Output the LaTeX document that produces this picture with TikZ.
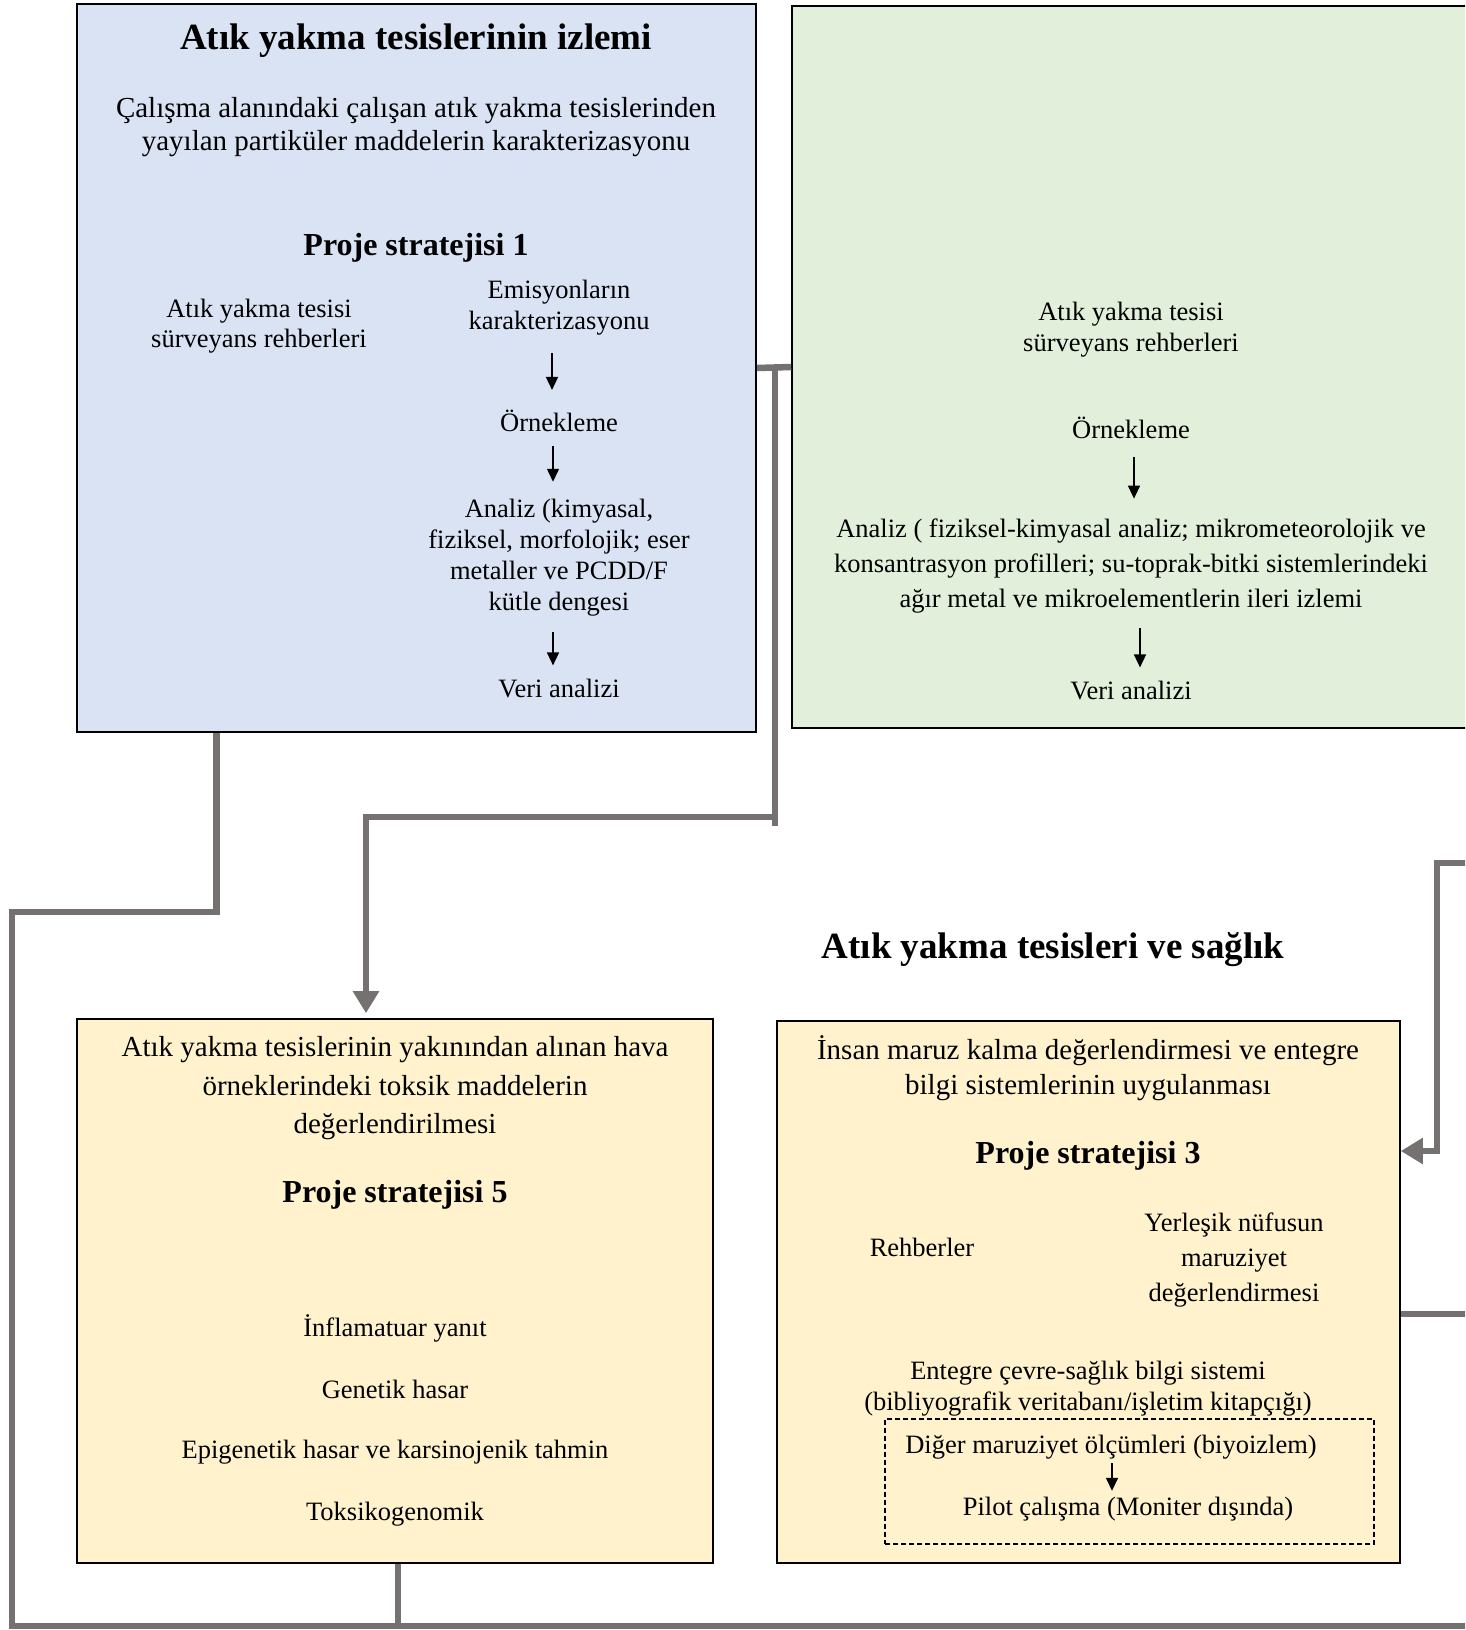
\documentclass[tikz,border=0pt]{standalone}
\usepackage{fontspec}
\setmainfont{Liberation Serif}
\usetikzlibrary{arrows.meta}
\definecolor{monblue}{HTML}{DAE3F3}
\definecolor{mongreen}{HTML}{E2EFDA}
\definecolor{monyellow}{HTML}{FFF2CC}
\definecolor{linegray}{HTML}{767171}
\tikzset{
  panel/.style={draw=black, line width=1.6pt, inner sep=0pt},
  conn/.style={draw=linegray, line width=6.5pt},
  connhead/.style={-{Triangle[length=22pt,width=25pt]}},
  flow/.style={draw=black, line width=1.5pt, -{Triangle[length=13pt,width=12pt]}},
  txt/.style={inner sep=0pt, align=center},
  bigtitle/.style={txt, font=\fontsize{37}{42}\selectfont\bfseries},
  strat/.style={txt, font=\fontsize{32}{36}\selectfont\bfseries},
}
\begin{document}
\begin{tikzpicture}[x=1pt,y=-1pt]
  \clip (0,0) rectangle (1465,1630);
  \fill[white] (0,0) rectangle (1465,1630);

  \node[panel, fill=monblue, minimum width=679, minimum height=728] (mon) at (416.5,368) {};
  \node[panel, fill=mongreen, minimum width=700, minimum height=722] (fld) at (1142,367) {};
  \node[panel, fill=monyellow, minimum width=636, minimum height=544] (tox) at (395,1291) {};
  \node[panel, fill=monyellow, minimum width=623, minimum height=542] (hum) at (1088.5,1292) {};
  \node[draw=black, line width=1.2pt, dash pattern=on 5pt off 3pt, minimum width=489, minimum height=125] (pil) at (1129.5,1481.5) {};

  \node[bigtitle] (t1) at (416,41) {Atık yakma tesislerinin izlemi};
  \node[txt, font=\fontsize{29}{33}\selectfont] (d1) at (416,127.5) {Çalışma alanındaki çalışan atık yakma tesislerinden\\yayılan partiküler maddelerin karakterizasyonu};
  \node[strat] (s1) at (416,248) {Proje stratejisi 1};
  \node[txt, font=\fontsize{26.5}{30.5}\selectfont] (g1) at (259,326) {Atık yakma tesisi\\sürveyans rehberleri};
  \node[txt, font=\fontsize{26.5}{30.5}\selectfont] (e1) at (559,307.5) {Emisyonların\\karakterizasyonu};
  \node[txt, font=\fontsize{26.5}{30.5}\selectfont] (o1) at (559,421) {Örnekleme};
  \node[txt, font=\fontsize{26.5}{31}\selectfont] (a1) at (559,557.5) {Analiz (kimyasal,\\fiziksel, morfolojik; eser\\metaller ve PCDD/F\\kütle dengesi};
  \node[txt, font=\fontsize{26.5}{30.5}\selectfont] (v1) at (559,688) {Veri analizi};
  \draw[flow, shorten <=18pt, shorten >=20pt] ([xshift=-7]e1.south) -- ([xshift=-7]o1.north);
  \draw[flow, shorten <=14pt, shorten >=17pt] ([xshift=-6]o1.south) -- ([xshift=-6]a1.north);
  \draw[flow, shorten <=16pt, shorten >=13pt] ([xshift=-6]a1.south) -- ([xshift=-6]v1.north);

  \node[txt, font=\fontsize{26.5}{31}\selectfont] (g2) at (1131,329.5) {Atık yakma tesisi\\sürveyans rehberleri};
  \node[txt, font=\fontsize{26.5}{30.5}\selectfont] (o2) at (1131,428) {Örnekleme};
  \node[txt, font=\fontsize{26.5}{35}\selectfont] (a2) at (1131,566) {Analiz ( fiziksel-kimyasal analiz; mikrometeorolojik ve\\konsantrasyon profilleri; su-toprak-bitki sistemlerindeki\\ağır metal ve mikroelementlerin ileri izlemi};
  \node[txt, font=\fontsize{26.5}{30.5}\selectfont] (v2) at (1131,690) {Veri analizi};
  \draw[flow, shorten <=18pt, shorten >=20pt] ([xshift=3]o2.south) -- ([xshift=3]a2.north);
  \draw[flow, shorten <=15pt, shorten >=13pt] ([xshift=9]a2.south) -- ([xshift=9]v2.north);

  \node[bigtitle] (t2) at (1053,950) {Atık yakma tesisleri ve sağlık};

  \node[txt, font=\fontsize{29}{38.5}\selectfont] (d5) at (395,1088.5) {Atık yakma tesislerinin yakınından alınan hava\\örneklerindeki toksik maddelerin\\değerlendirilmesi};
  \node[strat] (s5) at (395,1195) {Proje stratejisi 5};
  \foreach \y/\t/\n in {1328/İnflamatuar yanıt/inf, 1389/Genetik hasar/gen,
    1452/Epigenetik hasar ve karsinojenik tahmin/epi, 1514/Toksikogenomik/tgx} {
    \node[txt, font=\fontsize{26.5}{30.5}\selectfont] (\n) at (395,\y) {\t};
  }

  \node[txt, font=\fontsize{29}{35}\selectfont] (d3) at (1088,1068.5) {İnsan maruz kalma değerlendirmesi ve entegre\\bilgi sistemlerinin uygulanması};
  \node[strat] (s3) at (1088,1156) {Proje stratejisi 3};
  \node[txt, font=\fontsize{26.5}{30.5}\selectfont] (r3) at (922,1247) {Rehberler};
  \node[txt, font=\fontsize{26.5}{35}\selectfont] (y3) at (1234,1260.5) {Yerleşik nüfusun\\maruziyet\\değerlendirmesi};
  \node[txt, font=\fontsize{26.5}{31}\selectfont] (en3) at (1088,1388.5) {Entegre çevre-sağlık bilgi sistemi\\(bibliyografik veritabanı/işletim kitapçığı)};
  \node[txt, font=\fontsize{26.5}{30.5}\selectfont] (bi3) at (1111,1447) {Diğer maruziyet ölçümleri (biyoizlem)};
  \node[txt, font=\fontsize{26.5}{30.5}\selectfont] (pi3) at (1128,1509) {Pilot çalışma (Moniter dışında)};
  \draw[flow, shorten <=4pt, shorten >=6pt] ([xshift=1]bi3.south) -- ([xshift=-16]pi3.north);

  \coordinate (j1) at (775,366);
  \coordinate (j2) at (775,826);
  \coordinate (bl) at (12,1626);
  \coordinate (br) at (1470,1626);
  \coordinate (rt) at (1470,863);
  \coordinate (rb) at (1470,1314);
  \draw[conn] (mon.east) -- (fld.west);
  \draw[conn] (j1) -- (j2);
  \draw[conn, connhead, shorten >=5pt] (775,817) -| ([xshift=-29]tox.north);
  \draw[conn] ([xshift=-200]mon.south) |- (12,912) -- (bl) -- (br);
  \draw[conn] ([xshift=3]tox.south) -- ([xshift=3]tox.south |- bl);
  \draw[conn, connhead] (rt) -- (1437,863) |- (hum.east |- 0,1151);
  \draw[conn] (hum.east |- 0,1314) -- (rb);
\end{tikzpicture}
\end{document}
